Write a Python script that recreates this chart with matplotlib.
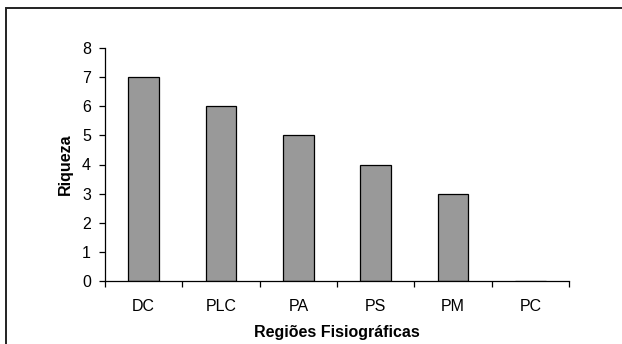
import matplotlib.pyplot as plt
from matplotlib.patches import Rectangle

plt.rcParams['font.family'] = ['Liberation Sans', 'DejaVu Sans']

regioes = ["DC", "PLC", "PA", "PS", "PM", "PC"]
riqueza = [7, 6, 5, 4, 3, 0]

fig = plt.figure(figsize=(6.22, 3.44), dpi=100)
ax = fig.add_axes([105/622, 1 - 281/344, 464/622, 233/344])

pos = [i + 0.5 for i in range(len(regioes))]
ax.bar(pos, riqueza, width=0.4, color="#999999", edgecolor="black", linewidth=0.9)

ax.set_xlim(0, len(regioes))
ax.set_ylim(0, 8)
ax.set_yticks(range(0, 9))

# category boundaries get the tick marks, names sit between them
ax.set_xticks(range(0, len(regioes) + 1))
ax.set_xticklabels([])
ax.set_xticks(pos, minor=True)
ax.set_xticklabels(regioes, minor=True)
ax.tick_params(axis="x", which="major", direction="out", length=4, width=0.9)
ax.tick_params(axis="x", which="minor", length=0, pad=13, labelsize=11.5)
ax.tick_params(axis="y", direction="out", length=4, width=0.9, pad=6, labelsize=11.5)

for s in ["top", "right"]:
    ax.spines[s].set_visible(False)
for s in ["left", "bottom"]:
    ax.spines[s].set_linewidth(0.9)

ax.set_xlabel("Regiões Fisiográficas", fontsize=11.5, fontweight="bold", labelpad=8)
ax.set_ylabel("Riqueza", fontsize=11.5, fontweight="bold", labelpad=7)

# frame around the whole chart area
fig.patches.append(Rectangle((6/622, -0.1), 2, 1 - 8/344 + 0.1,
                             transform=fig.transFigure, fill=False,
                             edgecolor="#222222", linewidth=1.4))

fig.savefig("out.png", dpi=100)
